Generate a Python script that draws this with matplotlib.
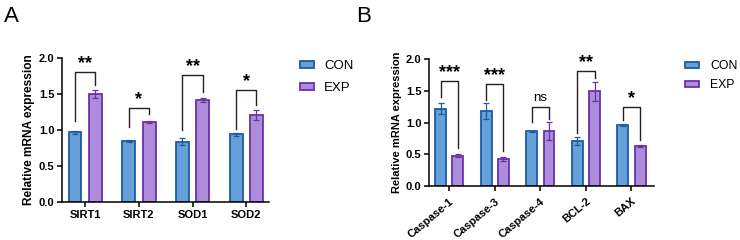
import numpy as np
import matplotlib
matplotlib.use("Agg")
import matplotlib.pyplot as plt
from matplotlib.patches import Patch

plt.rcParams["font.family"] = ["Liberation Sans", "DejaVu Sans"]

# panel A
genes_a = ["SIRT1", "SIRT2", "SOD1", "SOD2"]
con_a = [0.97, 0.85, 0.84, 0.94]
con_a_err = [0.02, 0.01, 0.05, 0.02]
exp_a = [1.50, 1.11, 1.42, 1.21]
exp_a_err = [0.06, 0.01, 0.03, 0.07]
sig_a = ["**", "*", "**", "*"]
top_a = [1.81, 1.31, 1.77, 1.55]
left_end_a = [1.12, 1.04, 1.00, 1.02]
right_end_a = [1.62, 1.22, 1.53, 1.35]

# panel B
genes_b = ["Caspase-1", "Caspase-3", "Caspase-4", "BCL-2", "BAX"]
con_b = [1.22, 1.18, 0.86, 0.71, 0.96]
con_b_err = [0.09, 0.12, 0.01, 0.06, 0.02]
exp_b = [0.48, 0.42, 0.87, 1.49, 0.63]
exp_b_err = [0.02, 0.03, 0.14, 0.15, 0.02]
sig_b = ["***", "***", "ns", "**", "*"]
top_b = [1.65, 1.60, 1.24, 1.81, 1.25]
left_end_b = [1.40, 1.36, 1.01, 0.84, 1.04]
right_end_b = [0.60, 0.55, 1.06, 1.70, 0.73]

con_fill, con_edge = "#65A1D8", "#1B5CA3"
exp_fill, exp_edge = "#AC8CDB", "#6B32A8"

fig = plt.figure(figsize=(7.4, 2.4), dpi=100)


def panel(ax, genes, con, con_err, exp, exp_err, sig, top, lend, rend, rotate, lab_size):
    x = np.arange(len(genes))
    off, w = 0.19, 0.24
    ax.bar(x - off, con, w, color=con_fill, edgecolor=con_edge, linewidth=1.3)
    ax.bar(x + off, exp, w, color=exp_fill, edgecolor=exp_edge, linewidth=1.3)
    ax.errorbar(x - off, con, yerr=con_err, fmt="none", ecolor=con_edge, elinewidth=0.9, capsize=2.5, capthick=0.9)
    ax.errorbar(x + off, exp, yerr=exp_err, fmt="none", ecolor=exp_edge, elinewidth=0.9, capsize=2.5, capthick=0.9)
    for i in range(len(genes)):
        ax.plot([x[i] - off, x[i] - off, x[i] + off, x[i] + off],
                [lend[i], top[i], top[i], rend[i]], color="#222222", lw=1.0)
        if sig[i] == "ns":
            ax.text(x[i], top[i] + 0.05, "ns", ha="center", va="bottom", fontsize=9.5)
        else:
            ax.text(x[i], top[i] + 0.0, sig[i], ha="center", va="bottom", fontsize=13, fontweight="bold")
    ax.set_ylim(0, 2.0)
    ax.set_yticks([0, 0.5, 1.0, 1.5, 2.0])
    ax.set_yticklabels(["0.0", "0.5", "1.0", "1.5", "2.0"], fontsize=8, fontweight="bold")
    ax.set_xticks(x)
    if rotate:
        ax.set_xticklabels(genes, fontsize=8, fontweight="bold", rotation=40, ha="right", va="top",
                           rotation_mode="anchor")
    else:
        ax.set_xticklabels(genes, fontsize=8, fontweight="bold")
    ax.set_ylabel("Relative mRNA expression", fontsize=lab_size, fontweight="bold", labelpad=3)
    for s in ["top", "right"]:
        ax.spines[s].set_visible(False)
    for s in ["left", "bottom"]:
        ax.spines[s].set_linewidth(1.1)
    ax.tick_params(width=1.1, length=3.5, pad=2)
    handles = [Patch(facecolor=con_fill, edgecolor=con_edge, linewidth=1.3, label="CON"),
               Patch(facecolor=exp_fill, edgecolor=exp_edge, linewidth=1.3, label="EXP")]
    return handles


ax1 = fig.add_axes([0.084, 0.158, 0.28, 0.6])
h = panel(ax1, genes_a, con_a, con_a_err, exp_a, exp_a_err, sig_a, top_a, left_end_a, right_end_a, False, 8.6)
ax1.set_xlim(-0.43, 3.43)
fig.legend(handles=h, loc="upper left", bbox_to_anchor=(0.405, 0.748), frameon=False, borderpad=0,
           borderaxespad=0, fontsize=9.5, handlelength=1.1, handleheight=0.45, handletextpad=0.75,
           labelspacing=0.75)

ax2 = fig.add_axes([0.58, 0.225, 0.304, 0.529])
h = panel(ax2, genes_b, con_b, con_b_err, exp_b, exp_b_err, sig_b, top_b, left_end_b, right_end_b, True, 8.0)
ax2.set_xlim(-0.44, 4.5)
for lbl in ax2.get_xticklabels():
    lbl.set_y(-0.02)
fig.legend(handles=h, loc="upper left", bbox_to_anchor=(0.925, 0.748), frameon=False, borderpad=0,
           borderaxespad=0, fontsize=8.8, handlelength=1.2, handleheight=0.45, handletextpad=0.9,
           labelspacing=0.55)

fig.text(0.005, 0.93, "A", fontsize=16, va="center", ha="left")
fig.text(0.481, 0.93, "B", fontsize=16, va="center", ha="left")

fig.savefig("out.png", dpi=100)
